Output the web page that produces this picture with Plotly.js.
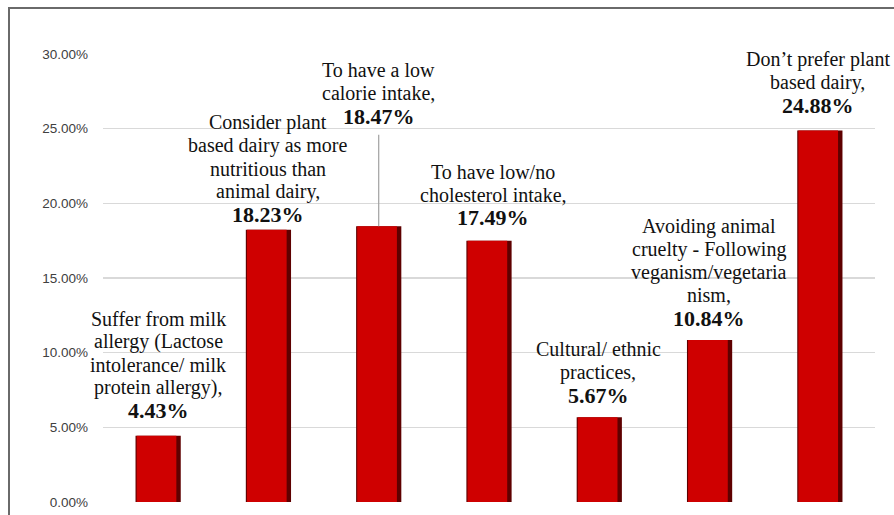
<!DOCTYPE html>
<html>
<head>
<meta charset="utf-8">
<script src="https://cdn.plot.ly/plotly-3.0.1.min.js"></script>
<style>
  html, body { margin: 0; padding: 0; background: #fff; overflow: hidden; }
  #wrap { position: relative; width: 894px; height: 515px; overflow: hidden; }
  #chart { width: 894px; height: 515px; }
  #frame {
    position: absolute; left: 8px; top: 7px; width: 1000px; height: 1000px;
    border: 2px solid #6a6a6a; pointer-events: none; box-sizing: border-box;
  }
</style>
</head>
<body>
<div id="wrap">
  <div id="chart"></div>
  <div id="frame"></div>
</div>
<script>
// Reasons given for (not) choosing plant-based dairy
const categories = [
  "Suffer from milk allergy (Lactose intolerance/ milk protein allergy)",
  "Consider plant based dairy as more nutritious than animal dairy",
  "To have a low calorie intake",
  "To have low/no cholesterol intake",
  "Cultural/ ethnic practices",
  "Avoiding animal cruelty - Following veganism/vegetarianism",
  "Don\u2019t prefer plant based dairy"
];

// Share of respondents, in percent
const shares = [4.43, 18.23, 18.47, 17.49, 5.67, 10.84, 24.88];

// Wrapped label text shown above each bar
const labelLines = [
  ["Suffer from milk", "allergy (Lactose", "intolerance/ milk", "protein allergy),"],
  ["Consider plant", "based dairy as more", "nutritious than", "animal dairy,"],
  ["To have a low", "calorie intake,"],
  ["To have low/no", "cholesterol intake,"],
  ["Cultural/ ethnic", "practices,"],
  ["Avoiding animal", "cruelty - Following", "veganism/vegetaria", "nism,"],
  ["Don\u2019t prefer plant", "based dairy,"]
];

const yTicks = [0, 5, 10, 15, 20, 25, 30];

// Label placement (pixels above bar top, horizontal nudge)
const labelGap = [25, 15, 110, 23, 22, 22, 25];
const labelNudge = [0, 0, 0, 4, -1, -1, -2];
const lineStep = 23;

const serif = "Liberation Serif";

const annotations = [];
shares.forEach((v, i) => {
  const lines = labelLines[i];
  const cat = categories[i];
  annotations.push({
    x: cat, y: v, xref: 'x', yref: 'y',
    text: '<b>' + v.toFixed(2) + '%</b>',
    showarrow: false, yanchor: 'middle', xanchor: 'center',
    yshift: labelGap[i], xshift: labelNudge[i],
    font: { family: serif, size: 22, color: '#111111' }
  });
  lines.forEach((ln, j) => {
    annotations.push({
      x: cat, y: v, xref: 'x', yref: 'y',
      text: ln,
      showarrow: false, yanchor: 'middle', xanchor: 'center',
      yshift: labelGap[i] + (lines.length - j) * lineStep, xshift: labelNudge[i],
      font: { family: serif, size: 20, color: '#111111' }
    });
  });
});

// Leader line from the raised "low calorie" label down to its bar
annotations.push({
  x: categories[2], y: shares[2], xref: 'x', yref: 'y',
  text: '', showarrow: true, arrowhead: 0, arrowwidth: 1.2,
  arrowcolor: '#a0a0a0', ax: 0, ay: -93, standoff: 0, startstandoff: 0,
  font: { size: 1 }
});

const traces = [
  {
    type: 'bar', x: categories, y: shares,
    width: 0.41, offset: -0.205,
    marker: { color: '#5e0000', line: { width: 0 } },
    hoverinfo: 'skip'
  },
  {
    type: 'bar', x: categories, y: shares,
    width: 0.36, offset: -0.195,
    marker: { color: '#cf0000', line: { width: 0 } },
    hovertemplate: '%{x}: %{y:.2f}%<extra></extra>'
  }
];

const layout = {
  width: 894, height: 515,
  margin: { l: 103, r: 19, t: 54, b: 13 },
  paper_bgcolor: '#ffffff', plot_bgcolor: '#ffffff',
  barmode: 'overlay',
  showlegend: false,
  font: { family: serif },
  xaxis: {
    type: 'category', range: [-0.5, 6.5], automargin: false,
    showticklabels: false, showgrid: false,
    zeroline: false, showline: false, ticks: ''
  },
  yaxis: {
    range: [0, 30], tickvals: yTicks, automargin: false,
    ticktext: yTicks.map(t => t.toFixed(2) + '%'),
    showgrid: true, gridcolor: '#d9d9d9', gridwidth: 1.3,
    zeroline: false, showline: false, ticks: '',
    ticklabelstandoff: 14,
    tickfont: { family: "Liberation Sans", size: 13.5, color: '#404040' }
  },
  annotations: annotations
};

Plotly.newPlot('chart', traces, layout, { displayModeBar: false, staticPlot: true });
</script>
</body>
</html>
